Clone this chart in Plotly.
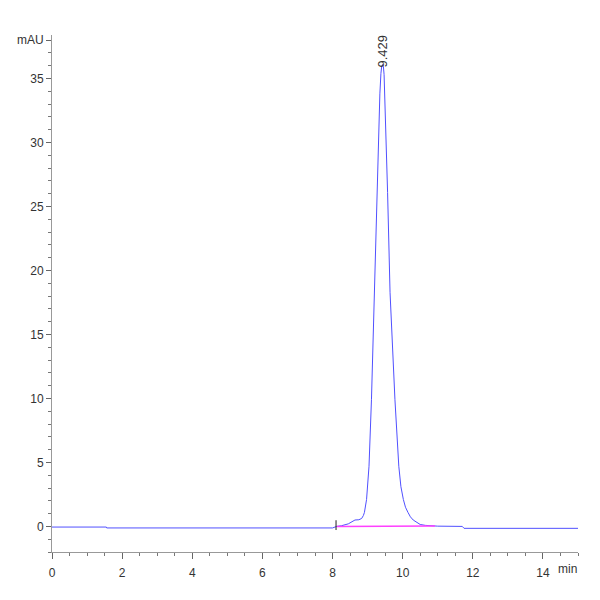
import plotly.graph_objects as go

# chromatogram (time in min, signal in mAU)
time_min = [0.0, 1.55, 1.56, 8.0, 8.12, 8.25, 8.45, 8.58, 8.64, 8.75, 8.83, 8.88,
            8.91, 8.97, 9.04, 9.11, 9.16, 9.20, 9.26, 9.32, 9.35, 9.38, 9.40, 9.43,
            9.45, 9.47, 9.49, 9.51, 9.57, 9.64, 9.69, 9.78, 9.89, 9.95, 10.02, 10.08,
            10.15, 10.22, 10.3, 10.4, 10.5, 10.65, 10.8, 11.0, 11.7, 11.75, 15.0]
signal_mau = [-0.05, -0.05, -0.12, -0.12, 0.0, 0.05, 0.2, 0.4, 0.5, 0.52, 0.62, 0.85,
              1.1, 2.1, 4.7, 9.9, 15.2, 18.3, 26.1, 31.25, 33.8, 35.4, 35.9, 36.1,
              35.95, 35.3, 33.6, 31.25, 26.1, 18.3, 15.2, 9.9, 4.7, 3.1, 2.1, 1.5,
              1.1, 0.75, 0.5, 0.3, 0.15, 0.08, 0.05, 0.02, 0.0, -0.15, -0.15]

baseline_t = [8.12, 10.92]
baseline_y = [0.0, 0.03]

marker_t = [8.1]
marker_y = [0.1]

peak_rt = 9.429
peak_h = 36.1

y_major = [0, 5, 10, 15, 20, 25, 30, 35, 38]
y_labels = ["0", "5", "10", "15", "20", "25", "30", "35", "mAU"]
x_major = [0, 2, 4, 6, 8, 10, 12, 14]
x_labels = ["0", "2", "4", "6", "8", "10", "12", "14"]

font_family = "Liberation Sans Narrow, Liberation Sans, Arial"

fig = go.Figure()
fig.add_trace(go.Scatter(x=time_min, y=signal_mau, mode="lines",
                         line=dict(color="#5050ff", width=1),
                         hoverinfo="skip"))
fig.add_trace(go.Scatter(x=baseline_t, y=baseline_y, mode="lines",
                         line=dict(color="#ff40ff", width=1.5), hoverinfo="skip"))
fig.add_trace(go.Scatter(x=marker_t, y=marker_y, mode="markers",
                         marker=dict(symbol="line-ns", size=7,
                                     line=dict(color="#222", width=1)),
                         hoverinfo="skip"))

fig.add_annotation(x=peak_rt, y=peak_h, text=f"{peak_rt:.3f}", textangle=-90,
                   showarrow=False, xanchor="center", yanchor="bottom", yshift=-5,
                   font=dict(family=font_family, size=13, color="#333"))
fig.add_annotation(x=1, y=0, xref="paper", yref="paper", text="min", showarrow=False,
                   xanchor="right", yanchor="top", yshift=-8, xshift=1,
                   font=dict(family=font_family, size=12, color="#333"))

# page body has an 8px margin, so the plot box is offset to match the reference
fig.update_layout(
    width=600, height=600,
    margin=dict(l=44, r=30, t=27, b=56),
    plot_bgcolor="white", paper_bgcolor="white",
    showlegend=False,
    font=dict(family=font_family, size=12, color="#333"),
    xaxis=dict(range=[0, 15], tickvals=x_major, ticktext=x_labels, automargin=False,
               showgrid=False, zeroline=False, showline=True, linecolor="#999",
               linewidth=1, ticks="outside", ticklen=6, tickcolor="#666",
               ticklabelstandoff=4,
               minor=dict(dtick=0.5, tick0=0, ticks="outside", ticklen=3, tickcolor="#777")),
    yaxis=dict(range=[-2, 38.4], tickvals=y_major, ticktext=y_labels, automargin=False,
               showgrid=False, zeroline=False, showline=True, linecolor="#999",
               linewidth=1, ticks="outside", ticklen=5, tickcolor="#666",
               minor=dict(dtick=1, tick0=0, ticks="outside", ticklen=3, tickcolor="#777")),
)

fig.write_html("out.html")
